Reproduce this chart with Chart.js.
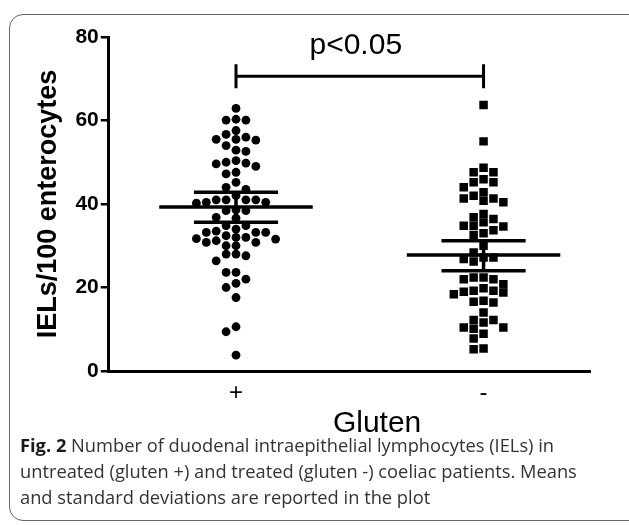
<!DOCTYPE html>
<html>
<head>
<meta charset="utf-8">
<script src="https://cdn.jsdelivr.net/npm/chart.js@4.4.1/dist/chart.umd.min.js"></script>
<style>
  html, body { margin: 0; padding: 0; background: #fff; }
  body { width: 629px; height: 525px; position: relative; overflow: hidden; }
  .frame {
    position: absolute; left: 9px; top: 14px; width: 650px; height: 507px;
    border: 1.5px solid #666; border-radius: 14px; box-sizing: border-box;
  }
  #wrap { position: absolute; left: 0; top: 0; width: 629px; height: 452px; }
  .caption {
    position: absolute; left: 20px; top: 432px; width: 609px;
    font-family: "Open Sans", sans-serif; font-size: 18.3px; line-height: 26px; color: #333;
    white-space: nowrap;
  }
  .caption b { color: #1a1a1a; }
</style>
</head>
<body>
<div class="frame"></div>
<div id="wrap"><canvas id="grafico"></canvas></div>
<div class="caption"><b>Fig. 2</b> Number of duodenal intraepithelial lymphocytes (IELs) in<br>untreated (gluten +) and treated (gluten -) coeliac patients. Means<br>and standard deviations are reported in the plot</div>

<script>
// =============================
// DADOS
// =============================

const categorias = ["+", "-"]
const tituloX = "Gluten"
const tituloY = "IELs/100 enterocytes"

// IELs/100 enterócitos, glúten +
const glutenPos = [
  62.9, 60.1, 60.1, 60.3, 57.6, 56.7, 55.5, 55.5, 55.3, 56.0, 54.0,
  52.9, 52.6, 49.6, 50.4, 50.0, 49.8, 49.0, 47.6, 47.2, 45.2, 43.5,
  44.0, 42.0, 41.0, 41.0, 40.4, 40.2, 40.4, 41.0, 41.0, 38.4, 38.4,
  38.6, 36.8, 36.6, 34.8, 34.0, 33.5, 34.8, 33.2, 33.2, 33.2, 32.0,
  32.4, 32.0, 31.2, 30.8, 30.0, 30.0, 30.8, 31.6, 31.7, 28.0, 27.6,
  26.4, 28.0, 23.6, 23.6, 22.0, 21.0, 20.0, 17.6, 10.6, 9.4, 3.8
]

// IELs/100 enterócitos, glúten -
const glutenNeg = [
  63.7, 55.0, 48.7, 47.6, 47.6, 45.9, 45.2, 45.2, 44.0, 42.8, 42.0,
  41.3, 40.4, 40.8, 41.3, 37.6, 36.8, 36.4, 35.6, 34.8, 34.6, 34.8,
  33.7, 32.6, 33.0, 30.0, 28.4, 27.2, 27.2, 26.2, 26.8, 22.4, 22.4,
  22.0, 22.0, 20.8, 19.2, 19.8, 19.2, 18.8, 18.4, 19.0, 16.8, 16.4,
  16.6, 14.0, 12.2, 10.4, 8.9, 10.1, 10.4, 11.6, 12.2, 7.8, 5.2, 5.4
]

// média e barras de desvio (+, -)
const medias = [39.3, 27.8]
const limiteInf = [35.6, 24.0]
const limiteSup = [42.8, 31.2]

// comparação
const rotuloP = "p<0.05"
const alturaColchete = 70.6
const alturaRotuloP = 78

const ticksY = [0, 20, 40, 60, 80]


// =============================
// DISTRIBUIÇÃO DOS PONTOS (beeswarm simples)
// =============================

function espalhar(valores, centro, passo, distMin){
  const ordem = valores.map((v, i) => i).sort((a, b) => valores[b] - valores[a])
  const colunas = {}
  const pontos = []
  ordem.forEach(i => {
    const v = valores[i]
    for(let k = 0; k < 30; k++){
      const c = k === 0 ? 0 : (k % 2 ? -Math.ceil(k / 2) : Math.ceil(k / 2))
      const usados = colunas[c] || []
      if(usados.every(u => Math.abs(u - v) >= distMin)){
        usados.push(v)
        colunas[c] = usados
        pontos.push({x: centro + c * passo, y: v})
        break
      }
    }
  })
  return pontos
}

function segmento(x1, y1, x2, y2, largura){
  return {
    type: "line",
    data: [{x: x1, y: y1}, {x: x2, y: y2}],
    borderColor: "#000",
    borderWidth: largura,
    pointRadius: 0,
    showLine: true,
    fill: false
  }
}

const linhas = []
medias.forEach((m, i) => {
  const g = i + 1
  linhas.push(segmento(g - 0.31, m, g + 0.31, m, 3.5))
  linhas.push(segmento(g - 0.17, limiteSup[i], g + 0.17, limiteSup[i], 3.5))
  linhas.push(segmento(g - 0.17, limiteInf[i], g + 0.17, limiteInf[i], 3.5))
  linhas.push(segmento(g, limiteInf[i], g, limiteSup[i], 3.5))
})


// =============================
// COLCHETE, VALOR DE P E TÍTULO DO EIXO X
// =============================

const fonte = '"Liberation Sans", Arial, sans-serif'

const anotacoes = {
  id: "anotacoes",
  afterDatasetsDraw(chart){
    const {ctx, scales: {x, y}} = chart
    const x1 = x.getPixelForValue(1)
    const x2 = x.getPixelForValue(2)
    const yc = y.getPixelForValue(alturaColchete)
    ctx.save()
    ctx.strokeStyle = "#000"
    ctx.lineWidth = 3
    ctx.beginPath()
    ctx.moveTo(x1, yc); ctx.lineTo(x2, yc)
    ctx.moveTo(x1, yc - 12); ctx.lineTo(x1, yc + 12)
    ctx.moveTo(x2, yc - 12); ctx.lineTo(x2, yc + 12)
    ctx.stroke()
    ctx.fillStyle = "#000"
    ctx.font = "30px " + fonte
    ctx.textAlign = "center"
    ctx.textBaseline = "middle"
    ctx.fillText(rotuloP, (x1 + x2) / 2 - 4, y.getPixelForValue(alturaRotuloP))
    // título do eixo x, um pouco à direita do centro como no original
    ctx.fillText(tituloX, x.getPixelForValue(1.57), chart.chartArea.bottom + 53)
    ctx.restore()
  }
}


// =============================
// GRÁFICO
// =============================

new Chart(document.getElementById("grafico").getContext("2d"), {

  type: "scatter",

  data: {
    datasets: [
      {
        label: "Gluten +",
        data: espalhar(glutenPos, 1, 0.04, 1.95),
        pointStyle: "circle",
        pointRadius: 4.4,
        pointBorderWidth: 0,
        backgroundColor: "#000"
      },
      {
        label: "Gluten -",
        data: espalhar(glutenNeg, 2, 0.04, 2.0),
        pointStyle: "rect",
        pointRadius: 6,
        pointBorderWidth: 0,
        backgroundColor: "#000"
      },
      ...linhas
    ]
  },

  options: {
    responsive: true,
    maintainAspectRatio: false,
    animation: false,
    layout: { padding: { left: 30, top: 37, right: 39, bottom: 45 } },
    plugins: {
      legend: { display: false },
      tooltip: { enabled: false }
    },
    scales: {
      x: {
        type: "linear",
        min: 0.486,
        max: 2.43,
        afterBuildTicks: axis => { axis.ticks = categorias.map((c, i) => ({value: i + 1})) },
        ticks: {
          callback: v => categorias[v - 1],
          font: { family: fonte, size: 24, lineHeight: 1 },
          color: "#000",
          padding: 2,
          maxRotation: 0,
          autoSkip: false
        },
        grid: { display: false },
        border: { display: true, color: "#000", width: 3 },
        title: { display: false }
      },
      y: {
        min: 0,
        max: 80,
        afterBuildTicks: axis => { axis.ticks = ticksY.map(v => ({value: v})) },
        ticks: {
          font: { family: fonte, size: 21, weight: "bold" },
          color: "#000",
          padding: 2
        },
        grid: { drawOnChartArea: false, drawTicks: true, tickLength: 8, color: "#000", lineWidth: 2.5 },
        border: { display: true, color: "#000", width: 3 },
        title: {
          display: true,
          text: tituloY,
          font: { family: fonte, size: 27, weight: "bold" },
          color: "#000",
          padding: { top: 2, bottom: 9 }
        }
      }
    }
  },

  plugins: [anotacoes]

})
</script>
</body>
</html>
